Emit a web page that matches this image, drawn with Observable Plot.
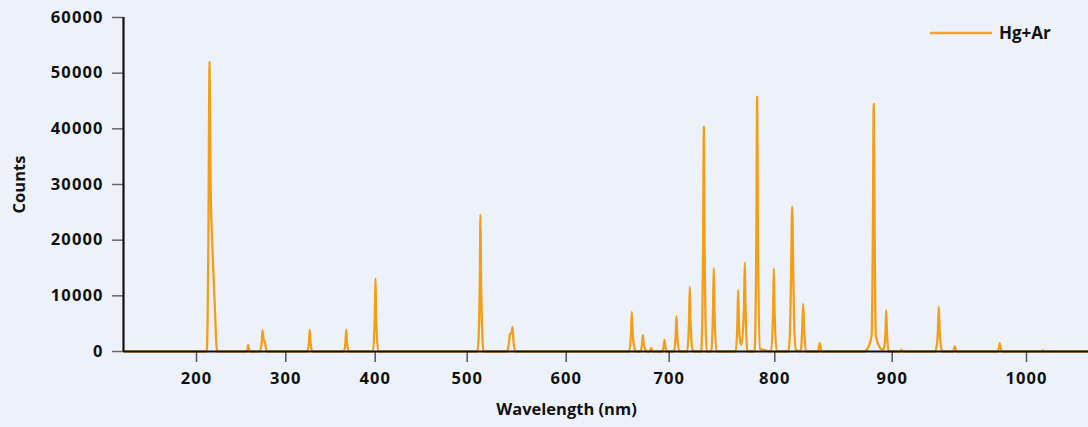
<!DOCTYPE html>
<html>
<head>
<meta charset="utf-8">
<script src="https://cdn.jsdelivr.net/npm/d3@7"></script>
<script src="https://cdn.jsdelivr.net/npm/@observablehq/plot@0.6"></script>
<style>
  html, body { margin: 0; padding: 0; background: #edf2fa; }
  #chart { position: relative; width: 1088px; height: 427px; }
  #legend { position: absolute; left: 930px; top: 21px; display: flex; align-items: center;
            font-family: "Open Sans", sans-serif; font-weight: 700; font-size: 17px; color: #111; }
  #legend svg { margin-right: 7px; }
</style>
</head>
<body>
<div id="chart">
  <div id="legend"><svg width="62" height="4"><line x1="0" x2="62" y1="2" y2="2" stroke="#eba33e" stroke-width="2.4"/></svg><span>Hg+Ar</span></div>
</div>
<script>
// Spectrum vertices (wavelength in nm, counts)
const wavelength = [
  120, 211.5, 213.3, 214.6, 215.8, 217.5, 219.5, 221, 222.2, 223.2,
  255.5, 257.2, 257.9, 258.7, 260.5,
  271, 273.1, 273.9, 275, 276.5, 277.6, 279,
  324, 326, 326.8, 327.6, 329.6,
  365, 366.8, 367.6, 368.4, 370.4,
  397.5, 399.5, 400.3, 401.1, 403.3,
  510.5, 512.7, 513.4, 514.1, 516.5,
  540.5, 542.3, 543.3, 544.6, 545.8, 546.7, 548.6,
  661, 663, 663.7, 664.5, 666, 667.5,
  672, 673.7, 674.4, 675.2, 677, 678.3,
  681, 682.5, 684,
  693, 694.7, 695.4, 696.1, 698,
  704.5, 706.2, 706.9, 707.6, 709.5,
  717, 718.8, 719.5, 720.2, 722, 723.5,
  730.3, 732.1, 732.8, 733.5, 735.5,
  739.7, 741.5, 742.2, 742.9, 744.8,
  763, 764.6, 765.3, 766, 767.2, 768.4, 770.8, 771.6, 772.3, 774.2,
  780.8, 782.6, 783.3, 784, 786, 789, 796.5,
  798.4, 799.1, 799.8, 801.6,
  811.5, 812.8, 813.8, 814.8, 815.8, 816.8, 818,
  822, 823.4, 824.2, 825, 826.5,
  836.8, 838.3, 839.8,
  876, 879.5, 882.5, 883.5, 884.3, 885.1, 886, 889, 892,
  893.4, 894.3, 894.9, 895.5, 897,
  905.5, 906.9, 908.3,
  932, 933.4, 934.1, 934.7, 935.3, 936.2, 937.5,
  945.3, 946.6, 947.9,
  978.5, 979.5, 980.1, 980.7, 981.8,
  1011, 1012.1, 1013.2,
  1046
];
const counts = [
  0, 0, 20000, 52000, 30000, 20000, 12000, 6000, 1500, 0,
  0, 500, 1200, 500, 0,
  0, 1800, 3800, 2200, 1700, 700, 0,
  0, 1800, 3900, 1800, 0,
  0, 1800, 3900, 1800, 0,
  0, 6000, 13100, 6000, 0,
  0, 11500, 24600, 11500, 0,
  0, 1800, 3200, 3300, 4400, 2000, 0,
  0, 3400, 7100, 3400, 900, 0,
  0, 1400, 2950, 1400, 300, 0,
  0, 650, 0,
  0, 1000, 2100, 1000, 0,
  0, 3100, 6400, 3100, 0,
  0, 5600, 11600, 5600, 400, 0,
  0, 19000, 40400, 19000, 0,
  0, 7200, 15000, 7200, 0,
  0, 5300, 11000, 5300, 1800, 1200, 7800, 16000, 7800, 0,
  0, 22000, 45800, 22000, 500, 300, 0,
  7200, 14900, 7200, 0,
  0, 3000, 13000, 26000, 13000, 3000, 300,
  0, 4200, 8600, 4200, 0,
  0, 1500, 0,
  0, 700, 3000, 20000, 44500, 20000, 3000, 900, 300,
  1000, 3600, 7400, 3600, 0,
  0, 300, 0,
  0, 1500, 4000, 8000, 4000, 1000, 0,
  0, 900, 0,
  0, 700, 1500, 700, 0,
  0, 200, 0,
  0
];
const seriesName = "Hg+Ar";

// Axis: tick labels, and the (non-uniform) wavelength calibration of the axis
const xTicks = [200, 300, 400, 500, 600, 700, 800, 900, 1000];
const yTicks = [0, 10000, 20000, 30000, 40000, 50000, 60000];
const axisWavelengths = [118.3, 200, 300, 400, 500, 600, 700, 800, 900, 1000, 1046];
const axisPixels = [123, 196, 285.3, 374.7, 466.7, 565.7, 668.7, 774.3, 891.7, 1026, 1088];

const data = wavelength.map((w, i) => ({w, c: counts[i], s: seriesName}));

const chart = Plot.plot({
  width: 1088,
  height: 427,
  marginLeft: 123,
  marginRight: 0,
  marginTop: 17,
  marginBottom: 76,
  style: {background: "transparent", fontFamily: "'Open Sans', sans-serif", fontWeight: 700, fontSize: "16.5px", color: "#111"},
  x: {type: "linear", domain: axisWavelengths, range: axisPixels},
  y: {domain: [0, 60000]},
  marks: [
    Plot.line(data, {x: "w", y: "c", stroke: "#f49e14", strokeWidth: 2.3, curve: "monotone-x"}),
    Plot.axisX({ticks: xTicks, tickSize: 11, tickPadding: 10, tickFormat: d => String(d), label: null, stroke: "#555", strokeWidth: 1.5}),
    Plot.axisY({ticks: yTicks, tickSize: 11, tickPadding: 9, tickFormat: d => String(d), label: "Counts", labelAnchor: "center", labelArrow: false, labelOffset: 110, stroke: "#666", strokeWidth: 1.5}),
    Plot.ruleY([0], {stroke: "#111", strokeWidth: 2.2}),
    Plot.ruleX([axisWavelengths[0]], {stroke: "#111", strokeWidth: 2.2}),
    Plot.text(["Wavelength (nm)"], {frameAnchor: "bottom", dy: 63, dx: -39.5, fontWeight: 700, fontSize: 16.5, fill: "#111"})
  ]
});
d3.select(chart).selectAll('g[aria-label="x-axis tick label"] text, g[aria-label="y-axis tick label"] text')
  .attr("letter-spacing", "1.1px");
document.getElementById("chart").prepend(chart);
</script>
</body>
</html>
